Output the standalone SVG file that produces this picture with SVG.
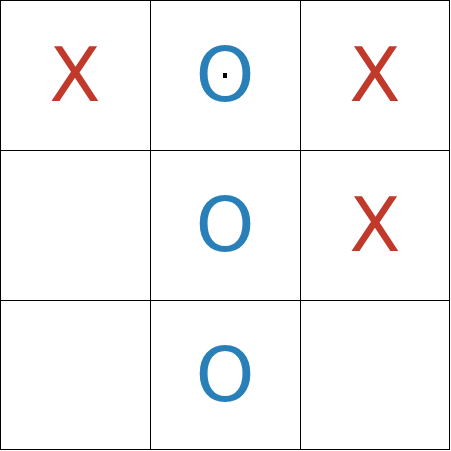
<svg xmlns="http://www.w3.org/2000/svg" width="451" height="451" viewBox="0 0 451 451">
<style>
.cell{fill:#fff;stroke:#000;stroke-width:1}
.m{font-family:"DejaVu Sans",sans-serif;font-size:75px;text-anchor:middle}
.x{fill:#c0392b}
.o{fill:#2980b9}
</style>
<rect width="451" height="451" fill="#fff"/>
<g id="grid">
<rect id="c00" class="cell" x="0.5" y="0.5" width="150" height="150"/>
<rect id="c01" class="cell" x="150.5" y="0.5" width="150" height="150"/>
<rect id="c02" class="cell" x="300.5" y="0.5" width="149" height="150"/>
<rect id="c10" class="cell" x="0.5" y="150.5" width="150" height="150"/>
<rect id="c11" class="cell" x="150.5" y="150.5" width="150" height="150"/>
<rect id="c12" class="cell" x="300.5" y="150.5" width="149" height="150"/>
<rect id="c20" class="cell" x="0.5" y="300.5" width="150" height="149"/>
<rect id="c21" class="cell" x="150.5" y="300.5" width="150" height="149"/>
<rect id="c22" class="cell" x="300.5" y="300.5" width="149" height="149"/>
</g>
<g id="marks">
<text class="m x" x="75" y="101">X</text>
<text class="m o" x="225" y="101">O</text>
<text class="m x" x="375" y="101">X</text>
<text class="m o" x="225" y="251">O</text>
<text class="m x" x="375" y="251">X</text>
<text class="m o" x="225" y="401">O</text>
<rect id="dot" x="223" y="73" width="4" height="5" fill="#000"/>
</g>
</svg>
